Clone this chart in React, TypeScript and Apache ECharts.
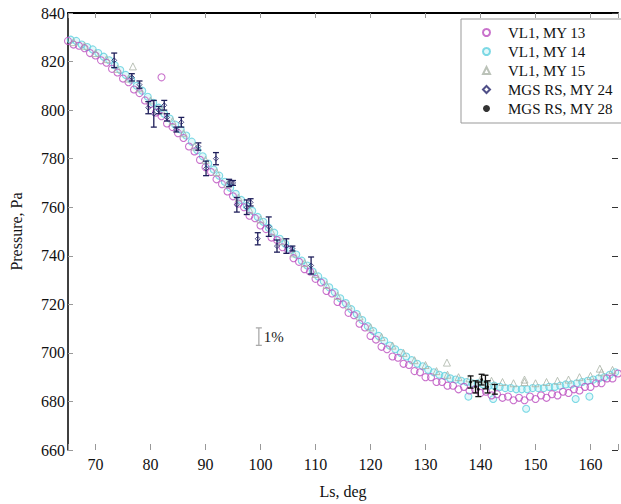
import React, { useEffect, useRef } from 'react';
import * as echarts from 'echarts';

// Ls (deg) vs surface pressure (Pa)
const vl1MY13: [number, number][] = [
  [65, 828.5], [66, 827], [67, 826.5], [68, 825.5], [69, 823.5], [70, 822.5], [71, 820.5], [72, 819.5], [73, 817], [74, 815.5],
  [75, 813], [76, 811.5], [77, 808.5], [78, 807], [79, 804], [80, 802.5], [81, 799], [82, 797.5], [83, 794.5], [84, 793],
  [85, 790.5], [86, 788.5], [87, 785], [88, 783], [89, 779.5], [90, 776.5], [91, 774.5], [92, 771.5], [93, 769.5], [94, 766.5],
  [95, 764.5], [96, 761.5], [97, 760], [98, 756.5], [99, 755.5], [100, 752.5], [101, 751], [102, 747.5], [103, 746.5], [104, 743.5],
  [105, 742.5], [106, 739], [107, 737.5], [108, 734.5], [109, 733.5], [110, 730.5], [111, 729], [112, 725.5], [113, 724.5], [114, 721],
  [115, 720], [116, 716.5], [117, 715.5], [118, 712], [119, 710.5], [120, 707], [121, 705.5], [122, 702.5], [123, 701.5], [124, 698.5],
  [125, 698], [126, 695.5], [127, 695], [128, 692.5], [129, 692], [130, 690], [131, 690], [132, 688], [133, 688], [134, 686.5],
  [135, 686.5], [136, 685], [137, 686], [138, 684.5], [139, 685], [140, 683.5], [141, 684], [142, 682.5], [143, 683], [144, 681.5],
  [145, 682], [146, 680.5], [147, 681.5], [148, 680.5], [149, 682], [150, 681], [151, 682.5], [152, 681.5], [153, 683], [154, 682.5],
  [155, 684], [156, 683.5], [157, 685], [158, 684.5], [159, 686], [160, 686], [161, 687.5], [162, 687.5], [163, 689.5], [164, 689.5],
  [165, 691.5], [82, 813.5],
];

const vl1MY14: [number, number][] = [
  [65.5, 829], [66.5, 828.5], [67.5, 827], [68.5, 826], [69.5, 825], [70.5, 823.5], [71.5, 822], [72.5, 820.5], [73.5, 818.5], [74.5, 816.5],
  [75.5, 814.5], [76.5, 812.5], [77.5, 810], [78.5, 808], [79.5, 805.5], [80.5, 803], [81.5, 801], [82.5, 798.5], [83.5, 796.5], [84.5, 794],
  [85.5, 792], [86.5, 789.5], [87.5, 787], [88.5, 783.5], [89.5, 781], [90.5, 778], [91.5, 775.5], [92.5, 773], [93.5, 770.5], [94.5, 768],
  [95.5, 765.5], [96.5, 763], [97.5, 760.5], [98.5, 758.5], [99.5, 756], [100.5, 754], [101.5, 751.5], [102.5, 749.5], [103.5, 747], [104.5, 745],
  [105.5, 742.5], [106.5, 740.5], [107.5, 738], [108.5, 736], [109.5, 733.5], [110.5, 731.5], [111.5, 729.5], [112.5, 727], [113.5, 725], [114.5, 722.5],
  [115.5, 720.5], [116.5, 718], [117.5, 716], [118.5, 713.5], [119.5, 711], [120.5, 709], [121.5, 707], [122.5, 705], [123.5, 703], [124.5, 701.5],
  [125.5, 700], [126.5, 698.5], [127.5, 697], [128.5, 695.5], [129.5, 694.5], [130.5, 693], [131.5, 692], [132.5, 691], [133.5, 690.5], [134.5, 689.5],
  [135.5, 689], [136.5, 688.5], [137.5, 688], [138.5, 687.5], [139.5, 687.5], [140.5, 687], [141.5, 686.5], [142.5, 686.5], [143.5, 686], [144.5, 685.5],
  [145.5, 685.5], [146.5, 685], [147.5, 685], [148.5, 685], [149.5, 685.5], [150.5, 685.5], [151.5, 685.5], [152.5, 686], [153.5, 686], [154.5, 686.5],
  [155.5, 687], [156.5, 687], [157.5, 687.5], [158.5, 688], [159.5, 688.5], [160.5, 689], [161.5, 689.5], [162.5, 690], [163.5, 691], [164.5, 692],
  [137.8, 682], [142.3, 681], [148.3, 677], [157.3, 681], [159.8, 682],
];

const vl1MY15: [number, number][] = [
  [66, 828], [68, 826.5], [70, 823.5], [72, 821], [74, 817], [76, 813], [78, 809], [80, 804], [82, 800], [84, 795.5],
  [86, 790.5], [88, 785], [90, 779.5], [92, 774.5], [94, 769.5], [96, 764], [98, 759], [100, 755], [102, 750], [104, 746],
  [106, 741], [108, 737], [110, 732.5], [112, 728], [114, 723.5], [116, 719.5], [118, 715], [120, 710.5], [122, 706.5], [124, 703],
  [126, 700], [128, 697], [130, 695], [132, 692.5], [134, 691], [136, 690], [138, 689.5], [140, 689], [142, 688.5], [144, 688],
  [146, 687.5], [148, 688], [150, 687.5], [152, 688], [154, 688.5], [156, 689], [158, 690], [160, 690.5], [162, 692], [164, 693],
  [76.8, 818], [133.9, 696], [148, 689], [161.7, 693.5],
];

// [Ls, pressure, error half-width]
const mgsMY24: [number, number, number][] = [
  [73.4, 820.5, 3], [76.6, 813.5, 1.5], [78.0, 810.5, 1.5], [79.6, 801, 2.5], [80.6, 798.5, 5.5],
  [81.5, 800, 1.5], [82.5, 802, 2], [83.0, 797, 1.5], [84.7, 792, 1], [85.6, 795, 2], [88.7, 785, 1.5],
  [90.1, 776, 3], [91.9, 780, 2.5], [94.3, 770, 1.5], [95.0, 770, 1], [95.7, 761, 3],
  [97.5, 760, 3], [98.2, 762, 1.5], [99.5, 747, 2.5], [101.5, 752, 4], [103.0, 744, 2.5], [104.7, 744, 3],
  [105.8, 743, 1], [109.2, 736, 3.5],
];

const mgsMY28: [number, number, number][] = [
  [138.2, 688, 2.5], [139.1, 686, 2.5], [139.6, 685, 3], [140.2, 689, 2.2],
  [140.9, 688, 2.8], [141.3, 686, 2.5], [142.6, 685, 2],
];

// 1% scale bar
const scaleBar: [number, number, number][] = [[99.7, 706.7, 3.6]];

const yTicks = [660, 680, 700, 720, 740, 760, 780, 800, 820, 840];

const FONT = '"Liberation Serif", "Times New Roman", "DejaVu Serif", serif';

function errorBarRender(color: string, withText?: string) {
  return (params: any, api: any) => {
    const x = api.value(0);
    const y = api.value(1);
    const e = api.value(2);
    const hi = api.coord([x, y + e]);
    const lo = api.coord([x, y - e]);
    const w = 3;
    const style = { stroke: color, lineWidth: 1.3 };
    const children: any[] = [
      { type: 'line', shape: { x1: hi[0], y1: hi[1], x2: lo[0], y2: lo[1] }, style },
      { type: 'line', shape: { x1: hi[0] - w, y1: hi[1], x2: hi[0] + w, y2: hi[1] }, style },
      { type: 'line', shape: { x1: lo[0] - w, y1: lo[1], x2: lo[0] + w, y2: lo[1] }, style },
    ];
    if (withText) {
      children.push({
        type: 'text',
        x: hi[0] + 5,
        y: (hi[1] + lo[1]) / 2,
        style: { text: withText, fill: '#222', fontFamily: FONT, fontSize: 15, verticalAlign: 'middle' },
      });
    }
    return { type: 'group', children };
  };
}

export default function App() {
  const ref = useRef<HTMLDivElement>(null);
  useEffect(() => {
    if (!ref.current) return;
    const chart = echarts.init(ref.current, undefined, { renderer: 'svg' });
    const yMin = yTicks[0];
    const yMax = yTicks[yTicks.length - 1];
    chart.setOption({
      animation: false,
      backgroundColor: '#fff',
      textStyle: { fontFamily: FONT },
      grid: { left: 65, right: 0, top: 13, bottom: 44 },
      legend: {
        orient: 'vertical',
        left: 461,
        top: 19,
        padding: [6, 60, 7, 21],
        itemGap: 4,
        itemWidth: 7,
        itemHeight: 7,
        borderColor: '#999',
        borderWidth: 1,
        backgroundColor: '#fff',
        textStyle: { fontFamily: FONT, fontSize: 15, color: '#111', padding: [0, 0, 0, 13] },
        data: ['VL1, MY 13', 'VL1, MY 14', 'VL1, MY 15', 'MGS RS, MY 24', 'MGS RS, MY 28'],
      },
      xAxis: [
        {
          type: 'value',
          min: 65,
          max: 165,
          splitNumber: 10,
          position: 'bottom',
          name: 'Ls, deg',
          nameLocation: 'middle',
          nameGap: 33,
          nameTextStyle: { fontFamily: FONT, fontSize: 16, color: '#111' },
          axisLine: { show: false },
          axisTick: { show: true, inside: true, length: 6, lineStyle: { color: '#999' } },
          axisLabel: {
            fontFamily: FONT, fontSize: 16, color: '#111', margin: 6,
            formatter: (v: number) => (v % 10 === 0 ? String(v) : ''),
          },
          splitLine: { show: false },
        },
        {
          type: 'value',
          min: 65,
          max: 165,
          splitNumber: 10,
          position: 'top',
          axisLine: { show: true, lineStyle: { color: '#000', width: 2 } },
          axisTick: { show: true, inside: true, length: 5, lineStyle: { color: '#999' } },
          axisLabel: { show: false },
          splitLine: { show: false },
        },
      ],
      yAxis: [
        {
          type: 'value',
          min: yMin,
          max: yMax,
          interval: 20,
          position: 'left',
          name: 'Pressure, Pa',
          nameLocation: 'middle',
          nameGap: 44,
          nameTextStyle: { fontFamily: FONT, fontSize: 16, color: '#111' },
          axisLine: { show: true, lineStyle: { color: '#000', width: 1.5 } },
          axisTick: { show: true, inside: true, length: 5, lineStyle: { color: '#999' } },
          axisLabel: { fontFamily: FONT, fontSize: 16, color: '#111', margin: 3 },
          splitLine: { show: false },
        },
        {
          type: 'value',
          min: yMin,
          max: yMax,
          interval: 20,
          position: 'right',
          axisLine: { show: false },
          axisTick: { show: true, inside: true, length: 6, lineStyle: { color: '#333' } },
          axisLabel: { show: false },
          splitLine: { show: false },
        },
      ],
      series: [
        {
          name: 'VL1, MY 14',
          type: 'scatter',
          data: vl1MY14,
          symbol: 'circle',
          symbolSize: 7,
          itemStyle: { color: 'rgba(150,230,238,0.35)', borderColor: '#5fd0de', borderWidth: 1.1 },
        },
        {
          name: 'VL1, MY 13',
          type: 'scatter',
          data: vl1MY13,
          symbol: 'circle',
          symbolSize: 7,
          itemStyle: { color: 'rgba(255,255,255,0)', borderColor: '#bb4fbf', borderWidth: 1.1 },
        },
        {
          name: 'VL1, MY 15',
          type: 'scatter',
          data: vl1MY15,
          symbol: 'triangle',
          symbolSize: 7,
          itemStyle: { color: 'rgba(255,255,255,0)', borderColor: '#aab3a6', borderWidth: 1 },
        },
        {
          name: 'MGS RS, MY 24',
          type: 'scatter',
          data: mgsMY24.map((d) => [d[0], d[1]]),
          symbol: 'diamond',
          symbolSize: 5,
          itemStyle: { color: 'rgba(255,255,255,0)', borderColor: '#23236a', borderWidth: 1 },
          z: 4,
        },
        {
          name: 'MGS RS, MY 28',
          type: 'scatter',
          data: mgsMY28.map((d) => [d[0], d[1]]),
          symbol: 'circle',
          symbolSize: 3,
          itemStyle: { color: '#000' },
          z: 4,
        },
        {
          name: 'errMY24',
          type: 'custom',
          data: mgsMY24,
          encode: { x: 0, y: 1 },
          renderItem: errorBarRender('#1e1e5a'),
          z: 3,
        },
        {
          name: 'errMY28',
          type: 'custom',
          data: mgsMY28,
          encode: { x: 0, y: 1 },
          renderItem: errorBarRender('#111'),
          z: 3,
        },
        {
          name: 'scale',
          type: 'custom',
          data: scaleBar,
          encode: { x: 0, y: 1 },
          renderItem: errorBarRender('#aaa', '1%'),
          z: 3,
        },
      ],
    });
    return () => chart.dispose();
  }, []);
  return <div ref={ref} style={{ position: 'absolute', left: 0, top: 0, width: 621, height: 504 }} />;
}
